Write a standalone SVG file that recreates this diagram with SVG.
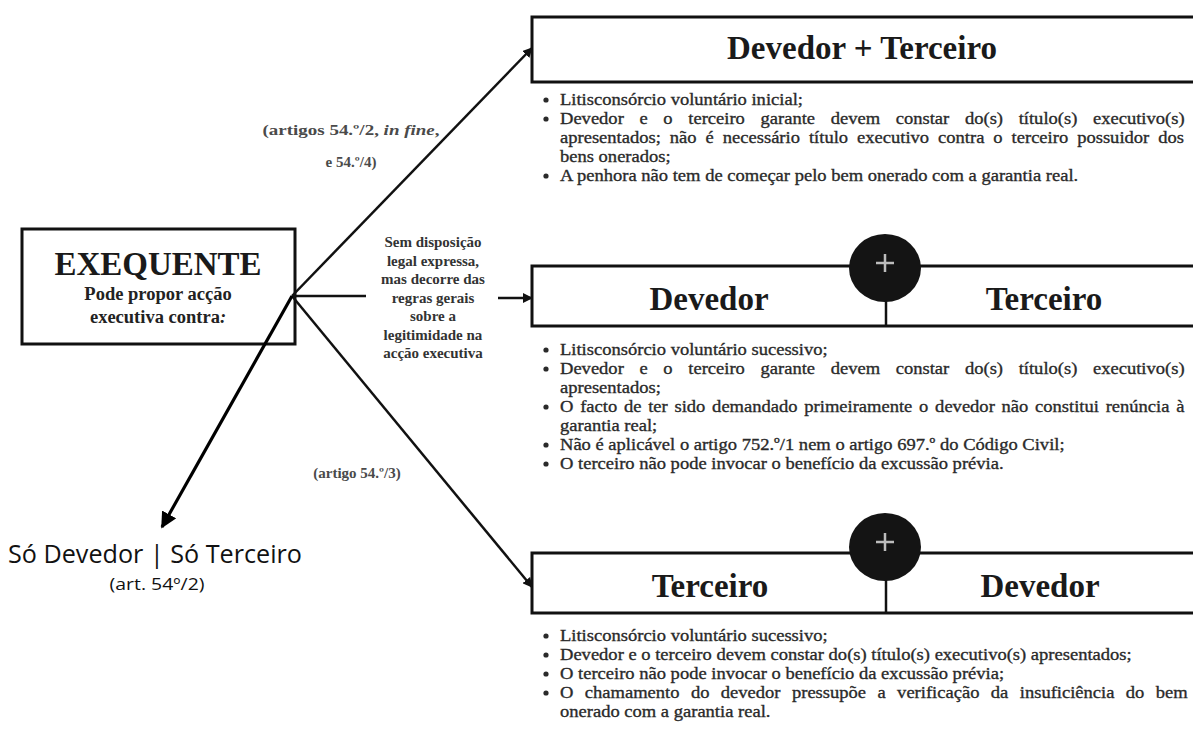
<svg xmlns="http://www.w3.org/2000/svg" width="1193" height="730" viewBox="0 0 1193 730">
<defs>
<style>
.box{fill:#fff;stroke:#111;stroke-width:3}
.ttl{font-family:"Liberation Serif",serif;font-weight:bold;font-size:33px;fill:#1a1a1a;text-anchor:middle}
.bul{font-family:"Liberation Serif",serif;font-size:17.5px;fill:#2a2a2a;stroke:#2a2a2a;stroke-width:0.35}
.dot{fill:#2a2a2a}
.lbl{font-family:"Liberation Serif",serif;font-weight:bold;font-size:15px;fill:#4a4a4a;text-anchor:middle}
.con{stroke:#111;stroke-width:2.5;fill:none}
.plus{stroke:#bdbdbd;stroke-width:2.5}
.cal{font-family:"Open Sans","Liberation Sans",sans-serif;fill:#111;text-anchor:middle}
</style>
<marker id="ah" viewBox="0 0 10 10" refX="9" refY="5" markerWidth="4" markerHeight="4" orient="auto" markerUnits="strokeWidth">
<path d="M0,0 L10,5 L0,10 z" fill="#111"/>
</marker>
<marker id="ahb" viewBox="0 0 10 10" refX="9" refY="5" markerWidth="5" markerHeight="5" orient="auto" markerUnits="strokeWidth">
<path d="M0,0 L10,5 L0,10 z" fill="#000"/>
</marker>
</defs>
<rect width="1193" height="730" fill="#fff"/>

<g id="exequente">
<rect class="box" x="22" y="229" width="273" height="115"/>
<text x="158" y="275" font-family="Liberation Serif, serif" font-weight="bold" font-size="33" fill="#1a1a1a" text-anchor="middle">EXEQUENTE</text>
<text x="158" y="300" font-family="Liberation Serif, serif" font-weight="bold" font-size="18.5" fill="#222" text-anchor="middle">Pode propor acção</text>
<text x="158" y="323" font-family="Liberation Serif, serif" font-weight="bold" font-size="18.5" fill="#222" text-anchor="middle">executiva contra<tspan font-style="italic">:</tspan></text>
</g>

<g id="so">
<text class="cal" x="155" y="563" font-size="26" textLength="294" lengthAdjust="spacingAndGlyphs">Só Devedor | Só Terceiro</text>
<text class="cal" x="157" y="590" font-size="16.5" textLength="95" lengthAdjust="spacingAndGlyphs">(art. 54º/2)</text>
</g>

<g id="top">
<rect class="box" x="532" y="17" width="680" height="65"/>
<text class="ttl" x="862" y="59">Devedor + Terceiro</text>
<circle class="dot" cx="546" cy="100" r="2.6"/>
<circle class="dot" cx="546" cy="119" r="2.6"/>
<circle class="dot" cx="546" cy="176" r="2.6"/>
<g transform="translate(560 0) scale(1.06 1)">
<text class="bul" x="0" y="105">Litisconsórcio voluntário inicial;</text>
<text class="bul" x="0" y="124" word-spacing="10.4">Devedor e o terceiro garante devem constar do(s) título(s) executivo(s)</text>
<text class="bul" x="0" y="143" word-spacing="4.1">apresentados; não é necessário título executivo contra o terceiro possuidor dos</text>
<text class="bul" x="0" y="162">bens onerados;</text>
<text class="bul" x="0" y="181">A penhora não tem de começar pelo bem onerado com a garantia real.</text>
</g>
</g>

<g id="middle">
<rect class="box" x="532" y="266" width="680" height="60"/>
<line x1="886" y1="295" x2="886" y2="326" stroke="#111" stroke-width="2.5"/>
<ellipse cx="885" cy="268" rx="36" ry="34" fill="#141414"/>
<line class="plus" x1="885" y1="254" x2="885" y2="272"/>
<line class="plus" x1="876" y1="263" x2="894" y2="263"/>
<text class="ttl" x="709" y="310">Devedor</text>
<text class="ttl" x="1044" y="310">Terceiro</text>
<circle class="dot" cx="546" cy="350" r="2.6"/>
<circle class="dot" cx="546" cy="369" r="2.6"/>
<circle class="dot" cx="546" cy="407" r="2.6"/>
<circle class="dot" cx="546" cy="445" r="2.6"/>
<circle class="dot" cx="546" cy="464" r="2.6"/>
<g transform="translate(560 0) scale(1.06 1)">
<text class="bul" x="0" y="355">Litisconsórcio voluntário sucessivo;</text>
<text class="bul" x="0" y="374" word-spacing="10.4">Devedor e o terceiro garante devem constar do(s) título(s) executivo(s)</text>
<text class="bul" x="0" y="393">apresentados;</text>
<text class="bul" x="0" y="412" word-spacing="2">O facto de ter sido demandado primeiramente o devedor não constitui renúncia à</text>
<text class="bul" x="0" y="431">garantia real;</text>
<text class="bul" x="0" y="450">Não é aplicável o artigo 752.º/1 nem o artigo 697.º do Código Civil;</text>
<text class="bul" x="0" y="469">O terceiro não pode invocar o benefício da excussão prévia.</text>
</g>
</g>

<g id="bottom">
<rect class="box" x="532" y="553" width="680" height="60"/>
<line x1="886" y1="580" x2="886" y2="613" stroke="#111" stroke-width="2.5"/>
<ellipse cx="885" cy="547" rx="36" ry="34" fill="#141414"/>
<line class="plus" x1="885" y1="533" x2="885" y2="551"/>
<line class="plus" x1="876" y1="542" x2="894" y2="542"/>
<text class="ttl" x="710" y="597">Terceiro</text>
<text class="ttl" x="1040" y="597">Devedor</text>
<circle class="dot" cx="546" cy="636" r="2.6"/>
<circle class="dot" cx="546" cy="655" r="2.6"/>
<circle class="dot" cx="546" cy="674" r="2.6"/>
<circle class="dot" cx="546" cy="693" r="2.6"/>
<g transform="translate(560 0) scale(1.06 1)">
<text class="bul" x="0" y="641">Litisconsórcio voluntário sucessivo;</text>
<text class="bul" x="0" y="660">Devedor e o terceiro devem constar do(s) título(s) executivo(s) apresentados;</text>
<text class="bul" x="0" y="679">O terceiro não pode invocar o benefício da excussão prévia;</text>
<text class="bul" x="0" y="698" word-spacing="6.4">O chamamento do devedor pressupõe a verificação da insuficiência do bem</text>
<text class="bul" x="0" y="717">onerado com a garantia real.</text>
</g>
</g>

<g id="connectors">
<line class="con" x1="292" y1="296" x2="532" y2="48" marker-end="url(#ah)"/>
<line class="con" x1="292" y1="296" x2="366" y2="296"/>
<line class="con" x1="498" y1="298" x2="532" y2="298" marker-end="url(#ah)"/>
<line class="con" x1="292" y1="296" x2="532" y2="587" marker-end="url(#ah)"/>
<line x1="292" y1="296" x2="162" y2="527" stroke="#000" stroke-width="3.2" marker-end="url(#ahb)"/>
<text class="lbl" x="351" y="135" textLength="177" lengthAdjust="spacingAndGlyphs">(artigos 54.º/2, <tspan font-style="italic">in fine</tspan>,</text>
<text class="lbl" x="351" y="167">e 54.º/4)</text>
<text class="lbl" x="357" y="478">(artigo 54.º/3)</text>
<g class="lbl" style="fill:#333">
<text x="433" y="247">Sem disposição</text>
<text x="433" y="265.5">legal expressa,</text>
<text x="433" y="284">mas decorre das</text>
<text x="433" y="302.5">regras gerais</text>
<text x="433" y="321">sobre a</text>
<text x="433" y="339.5">legitimidade na</text>
<text x="433" y="358">acção executiva</text>
</g>
</g>
</svg>
